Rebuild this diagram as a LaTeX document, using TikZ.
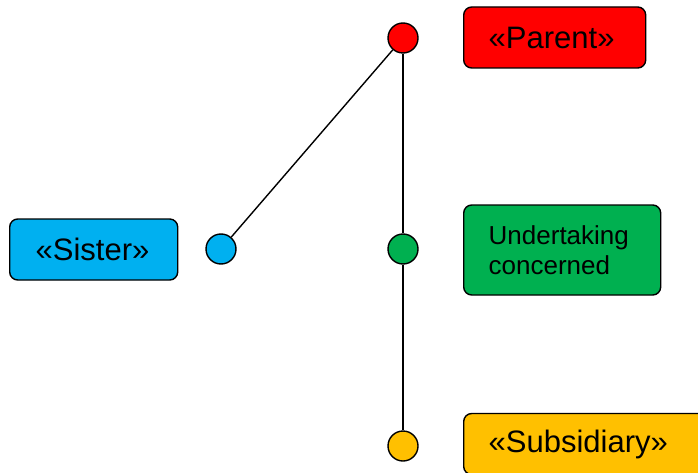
\documentclass[tikz,border=0pt]{standalone}
\usepackage{fontspec}
\setmainfont{Liberation Sans}
\usepackage{tikz}
\usetikzlibrary{positioning}
\definecolor{parentred}{RGB}{255, 0, 0}
\definecolor{sisterblue}{RGB}{0, 176, 240}
\definecolor{ownergreen}{RGB}{0, 176, 80}
\definecolor{subgold}{RGB}{255, 192, 0}

\begin{document}
\begin{tikzpicture}[x=1pt, y=1pt,
    dot/.style={circle, draw, line width=1.4pt, minimum size=30pt, inner sep=0pt},
    tag/.style={draw, line width=1.4pt, rounded corners=8pt, anchor=west,
      minimum height=61pt, inner xsep=25pt, align=left,
      font=\fontsize{31}{34}\selectfont},
    link/.style={line width=1.4pt}]
    \clip (0,0) rectangle (698,472);
    \useasboundingbox (0,0) rectangle (698,472);

    % Circles
    \node[dot, fill=parentred] (parentdot) at (403,434) {};
    \node[dot, fill=sisterblue] (sisterdot) at (221,223) {};
    \node[dot, fill=ownergreen] (ownerdot) at (403,223) {};
    \node[dot, fill=subgold] (subdot) at (403,26) {};

    % Boxes
    \node[tag, fill=parentred, text width=132pt] (parent) at (463,434.5) {«Parent»};
    \node[tag, fill=sisterblue, text width=116pt, inner xsep=26pt] (sister) at (9,222.5) {«Sister»};
    \node[tag, fill=ownergreen, text width=147pt, minimum height=90pt,
      font=\fontsize{26}{30}\selectfont] (owner) at (463,222) {Undertaking\\concerned};
    \node[tag, fill=subgold, text width=230pt] (sub) at (463,28) {«Subsidiary»};

    % Links
    \draw[link] (parentdot) -- (sisterdot);
    \draw[link] (parentdot) -- (ownerdot);
    \draw[link] (ownerdot) -- (subdot);
\end{tikzpicture}
\end{document}
